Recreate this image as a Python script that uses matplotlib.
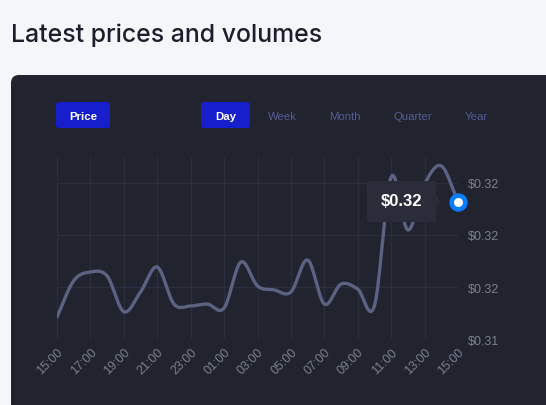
import numpy as np
import matplotlib
matplotlib.use("Agg")
import matplotlib.pyplot as plt
from matplotlib.patches import FancyBboxPatch, Polygon
from matplotlib.transforms import IdentityTransform

plt.rcParams['font.family'] = ['Inter', 'DejaVu Sans']

# hourly prices, 15:00 -> 15:00 next day
hours = list(range(25))
prices = [0.31606, 0.31780, 0.31822, 0.31803, 0.31631, 0.31726, 0.31846,
          0.31668, 0.31659, 0.31668, 0.31649, 0.31870, 0.31755, 0.31736,
          0.31726, 0.31880, 0.31668, 0.31764, 0.31740, 0.31660, 0.32279,
          0.32024, 0.32245, 0.32332, 0.32160]
xtick_labels = ["15:00", "17:00", "19:00", "21:00", "23:00", "01:00", "03:00",
                "05:00", "07:00", "09:00", "11:00", "13:00", "15:00"]
ytick_values = [0.315, 0.3175, 0.320, 0.3225]
ytick_labels = ["$0.31", "$0.32", "$0.32", "$0.32"]
periods = ["Day", "Week", "Month", "Quarter", "Year"]
tooltip_text = "$0.32"

W, H = 546, 406
BG = "#f5f6fa"
PANEL = "#21232f"
GRID = "#2b2e3c"
LINE = "#5b6282"
MUTED = "#7b7f8e"
BLUE_BTN = "#171ecb"
UI_FONT = ['Liberation Sans', 'DejaVu Sans']


def catmull_rom(x, y, n=16):
    x = np.asarray(x, float)
    y = np.asarray(y, float)
    px = np.concatenate([[2 * x[0] - x[1]], x, [2 * x[-1] - x[-2]]])
    py = np.concatenate([[2 * y[0] - y[1]], y, [2 * y[-1] - y[-2]]])
    t = np.linspace(0, 1, n, endpoint=False)
    xs, ys = [], []
    for i in range(1, len(px) - 2):
        for p, out in ((px, xs), (py, ys)):
            p0, p1, p2, p3 = p[i - 1], p[i], p[i + 1], p[i + 2]
            out.append(0.5 * ((2 * p1) + (-p0 + p2) * t
                              + (2 * p0 - 5 * p1 + 4 * p2 - p3) * t ** 2
                              + (-p0 + 3 * p1 - 3 * p2 + p3) * t ** 3))
    xs.append([x[-1]])
    ys.append([y[-1]])
    return np.concatenate(xs), np.concatenate(ys)


fig = plt.figure(figsize=(W / 100, H / 100), dpi=100, facecolor=BG)
px = IdentityTransform()

# dark card
card = FancyBboxPatch((11, -20), 560, H - 76 + 20, boxstyle="round,pad=0,rounding_size=8",
                      transform=px, facecolor=PANEL, edgecolor="none", zorder=-10)
fig.patches.append(card)

fig.text(11 / W, 1 - 35 / H, "Latest prices and volumes", fontsize=17.9,
         fontweight="medium", color="#1b1e2b", va="center", ha="left")

# buttons
def button(x0, x1, label):
    b = FancyBboxPatch((x0, H - 129), x1 - x0, 26, boxstyle="round,pad=0,rounding_size=3",
                       transform=px, facecolor=BLUE_BTN, edgecolor="none", zorder=-5)
    fig.patches.append(b)
    fig.text((x0 + x1) / 2 / W, 1 - 116 / H, label, color="white", fontsize=8.2,
             family=UI_FONT, fontweight="bold", ha="center", va="center_baseline")

button(56, 110, "Price")
button(201, 250, periods[0])
for cx, lab in zip([282, 345, 413, 476], periods[1:]):
    fig.text(cx / W, 1 - 116 / H, lab, color="#535d96", fontsize=8.2,
             family=UI_FONT, ha="center", va="center_baseline")

ax = fig.add_axes([57 / W, 1 - 340 / H, (458 - 57) / W, (340 - 158) / H])
ax.set_facecolor("none")
sx, sy = catmull_rom(hours, prices)
ax.plot(sx, sy, color=LINE, lw=2.4, solid_capstyle="round", zorder=3)
ax.set_xlim(0, 24)
ax.set_ylim(0.315, 0.315 + 182 / 52 * 0.0025)
ax.set_xticks(hours[::2])
ax.set_xticklabels(xtick_labels, rotation=45, ha="right", rotation_mode="anchor",
                   family=UI_FONT)
ax.set_yticks(ytick_values)
ax.set_yticklabels(ytick_labels, family=UI_FONT)
ax.yaxis.tick_right()
ax.tick_params(length=0, colors=MUTED, labelsize=9)
ax.tick_params(axis="y", pad=7)
ax.tick_params(axis="x", pad=5)
ax.grid(True, color=GRID, lw=1)
for s in ax.spines.values():
    s.set_visible(False)

# last point marker
ax.scatter([hours[-1]], [prices[-1]], s=150, color="#0a7cff", zorder=5, clip_on=False)
ax.scatter([hours[-1]], [prices[-1]], s=30, color="white", zorder=6, clip_on=False)

# tooltip
tip = FancyBboxPatch((367, H - 223), 69, 41, boxstyle="round,pad=0,rounding_size=2",
                     transform=px, facecolor="#2a2c3a", edgecolor="none", zorder=2)
fig.patches.append(tip)
fig.patches.append(Polygon([(436, H - 197), (441, H - 202.5), (436, H - 208)], closed=True,
                           transform=px, facecolor="#2a2c3a", edgecolor="none", zorder=2))
fig.text(401.5 / W, 1 - 202 / H, tooltip_text, color="white", fontsize=12,
         family=UI_FONT, fontweight="bold", ha="center", va="center", zorder=3)

fig.savefig("out.png", dpi=100, facecolor=BG)
